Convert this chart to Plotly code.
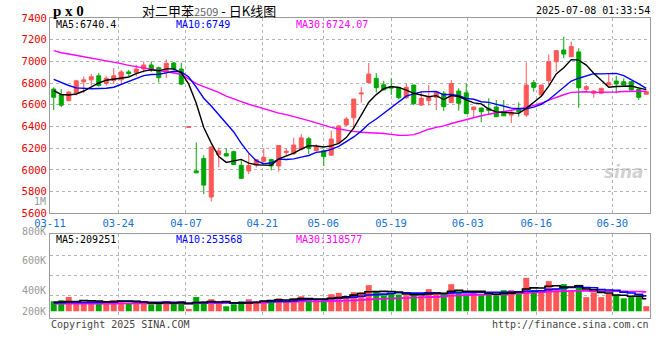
import plotly.graph_objects as go
import pandas as pd

# ---------------- data ----------------
opens = [6745, 6694, 6639, 6709, 6812, 6830, 6867, 6797, 6824, 6830,
         6903, 6897, 6930, 6967, 6942, 6900, 6985, 6930, 6392, 5991,
         6105, 5750, 6140, 6150, 6168, 6042, 5990, 6045, 6080, 6095,
         6036, 6160, 6149, 6190, 6287, 6178, 6177, 6136, 6250, 6414,
         6480, 6700, 6805, 6844, 6785, 6764, 6761, 6665, 6782, 6598,
         6638, 6669, 6706, 6620, 6727, 6710, 6555, 6570, 6568, 6580,
         6536, 6505, 6568, 6506, 6804, 6690, 6822, 6997, 7105, 7043,
         7087, 6743, 6706, 6706, 6782, 6819, 6813, 6813, 6746, 6697]
highs = [6761, 6745, 6724, 6830, 6861, 6885, 6894, 6867, 6939, 6921,
         6921, 6967, 7000, 7000, 6952, 7018, 6994, 6988, 6398, 6252,
         6136, 6221, 6205, 6200, 6178, 6090, 6148, 6100, 6200, 6103,
         6229, 6199, 6295, 6330, 6305, 6236, 6195, 6360, 6414, 6488,
         6653, 6765, 6985, 6893, 6820, 6844, 6765, 6798, 6782, 6727,
         6782, 6715, 6727, 6829, 6752, 6792, 6580, 6573, 6660, 6644,
         6644, 6552, 6623, 6990, 6829, 6782, 7065, 7099, 7228, 7182,
         7121, 6782, 6736, 6752, 6890, 6868, 6844, 6820, 6746, 6730]
lows = [6552, 6579, 6630, 6688, 6709, 6776, 6767, 6776, 6791, 6797,
        6861, 6861, 6897, 6903, 6806, 6848, 6920, 6780, 6392, 5970,
        5776, 5710, 6025, 6125, 6045, 5922, 5960, 6020, 6070, 5995,
        5985, 6130, 6137, 6180, 6148, 6170, 6036, 6130, 6245, 6405,
        6370, 6620, 6800, 6713, 6730, 6690, 6650, 6655, 6598, 6590,
        6592, 6552, 6543, 6620, 6546, 6515, 6488, 6440, 6506, 6490,
        6497, 6432, 6490, 6490, 6721, 6690, 6782, 6905, 7029, 7043,
        6573, 6721, 6665, 6706, 6782, 6706, 6782, 6736, 6644, 6697]
closes = [6670, 6597, 6718, 6821, 6830, 6858, 6779, 6845, 6867, 6903,
          6888, 6930, 6967, 6927, 6850, 6982, 6930, 6791, 6398, 5973,
          5860, 6210, 6175, 6128, 6050, 5922, 6040, 6095, 6115, 6036,
          6225, 6172, 6229, 6295, 6199, 6208, 6122, 6285, 6405, 6469,
          6653, 6708, 6883, 6758, 6739, 6755, 6665, 6761, 6610, 6660,
          6675, 6715, 6583, 6795, 6614, 6518, 6580, 6536, 6550, 6490,
          6498, 6532, 6536, 6782, 6761, 6782, 6997, 7099, 7068, 7136,
          6758, 6767, 6727, 6752, 6804, 6792, 6782, 6736, 6669, 6721]
volumes = [167000, 184000, 239000, 155000, 145000, 145000, 167000, 167000, 184000, 167000,
           139000, 145000, 134000, 117000, 145000, 167000, 122000, 167000, 39000, 239000,
           167000, 200000, 122000, 83000, 117000, 167000, 200000, 167000, 184000, 184000,
           217000, 184000, 217000, 250000, 184000, 184000, 184000, 284000, 306000, 250000,
           317000, 317000, 434000, 317000, 267000, 306000, 278000, 267000, 267000, 256000,
           367000, 317000, 278000, 451000, 334000, 284000, 317000, 267000, 278000, 267000,
           351000, 351000, 334000, 556000, 351000, 340000, 501000, 378000, 451000, 351000,
           440000, 235000, 315000, 235000, 296000, 270000, 215000, 240000, 236000, 85000]

# moving-average values before enough in-window history exists
ma5_head = [6730, 6695, 6690, 6700]
ma10_head = [6835, 6806, 6778, 6756, 6750, 6748, 6750, 6752, 6762]
ma30_head = [7100, 7080, 7068, 7056, 7045, 7033, 7020, 7004, 6993, 6980,
             6963, 6952, 6942, 6932, 6920, 6908, 6893, 6880, 6838, 6795,
             6768, 6742, 6715, 6680, 6652, 6630, 6605, 6585, 6565]
vma5_head = [150000, 155000, 160000, 162000]
vma10_head = [140000, 142000, 145000, 146000, 146000, 147000, 148000, 150000, 152000]
vma30_head = [125000, 125000, 126000, 126000, 127000, 127000, 128000, 128000, 128000, 129000,
              129000, 130000, 130000, 130000, 131000, 131000, 132000, 132000, 132000, 133000,
              134000, 135000, 136000, 137000, 138000, 139000, 140000, 141000, 142000]

tick_labels = ["03-11", "03-24", "04-07", "04-21", "05-06", "05-19", "06-03", "06-16", "06-30"]
tick_pos = [-0.5, 8.61, 17.63, 27.81, 35.94, 44.97, 55.19, 64.33, 74.47]
price_ticks = [5600, 5800, 6000, 6200, 6400, 6600, 6800, 7000, 7200, 7400]
vol_labels = ["1M", "800K", "600K", "400K", "200K"]

ma_texts = ["MA5:6740.4", "MA10:6749", "MA30:6724.07"]
vma_texts = ["MA5:209251", "MA10:253568", "MA30:318577"]

# ---------------- derived ----------------
n = len(closes)
idx = list(range(n))


def moving(values, w, head):
    m = pd.Series(values, dtype=float).rolling(w).mean().tolist()
    m[:len(head)] = head
    return m


ma5 = moving(closes, 5, ma5_head)
ma10 = moving(closes, 10, ma10_head)
ma30 = moving(closes, 30, ma30_head)
vma5 = moving(volumes, 5, vma5_head)
vma10 = moving(volumes, 10, vma10_head)
vma30 = moving(volumes, 30, vma30_head)

RED = "#ff5656"
GREEN = "#00a600"
MA_COLORS = ["#000000", "#0000ff", "#ff00ff"]
MONO = "DejaVu Sans Mono"

fig = go.Figure()

fig.add_trace(go.Candlestick(
    x=idx, open=opens, high=highs, low=lows, close=closes,
    increasing=dict(line=dict(color=RED, width=1), fillcolor=RED),
    decreasing=dict(line=dict(color=GREEN, width=1), fillcolor=GREEN),
    whiskerwidth=0, hoverinfo="skip", xaxis="x", yaxis="y"))

for series, col in zip([ma30, ma10, ma5], MA_COLORS[::-1]):
    fig.add_trace(go.Scatter(x=idx, y=series, mode="lines",
                             line=dict(color=col, width=1.4),
                             hoverinfo="skip", xaxis="x", yaxis="y"))

bar_colors = [RED if c >= o else GREEN for o, c in zip(opens, closes)]
fig.add_trace(go.Bar(x=idx, y=volumes, marker=dict(color=bar_colors, line=dict(width=0)),
                     width=0.8, hoverinfo="skip", xaxis="x2", yaxis="y2"))
for series, col in zip([vma30, vma10, vma5], MA_COLORS[::-1]):
    fig.add_trace(go.Scatter(x=idx, y=series, mode="lines",
                             line=dict(color=col, width=1.6, shape="hvh"),
                             hoverinfo="skip", xaxis="x2", yaxis="y2"))

# ---------------- layout ----------------
L, R, T, B = 50, 650, 18, 318
W = R - L
H = B - T


def px(xp):
    return (xp - L) / W


def py(yp):
    return (B - yp) / H


main_bottom, vol_top = 213.3, 234.3
grid = dict(showgrid=True, gridcolor="#b4b4b4", griddash="dot", gridwidth=1,
            zeroline=False, showline=True, linecolor="#9a9a9a", linewidth=1,
            mirror=True, ticks="", automargin=False)

fig.update_layout(
    template="none",
    width=660, height=360,
    margin=dict(l=L, r=660 - R, t=T, b=360 - B, autoexpand=False),
    paper_bgcolor="white", plot_bgcolor="white",
    showlegend=False, boxgap=0.24,
    font=dict(family=MONO, size=10, color="#000"),
    xaxis=dict(range=[-0.5, n - 0.5], tickvals=tick_pos, ticktext=tick_labels,
               tickfont=dict(family=MONO, size=10.5, color="#1870d0"),
               rangeslider=dict(visible=False), anchor="y", **grid),
    yaxis=dict(domain=[py(main_bottom), 1], range=[5600, 7400], tickvals=price_ticks,
               tickfont=dict(family=MONO, size=10.5, color="#e60000"), anchor="x", **grid),
    xaxis2=dict(range=[-0.5, n - 0.5], tickvals=tick_pos, showticklabels=False,
                anchor="y2", **grid),
    yaxis2=dict(domain=[0, py(vol_top)], range=[-112000, 1281000],
                tickvals=[267000, 601000, 935000], showticklabels=False,
                anchor="x2", **grid),
)

ann = []


def text(xp, yp, s, color="#000", size=10, anchor="left", family=MONO):
    ann.append(dict(x=px(xp), y=py(yp), xref="paper", yref="paper", text=s,
                    showarrow=False, xanchor=anchor, yanchor="middle",
                    font=dict(family=family, size=size, color=color)))


text(51, 11, "<b>p x 0</b>", size=15, family="Liberation Serif")
text(140, 11, "对二甲苯<span style='color:#666;font-size:11px'>2509</span> - 日K线图",
     size=13, family="Noto Sans CJK SC")
text(652, 11, "2025-07-08 01:33:54", anchor="right")

for s, xp, col in zip(ma_texts, [54, 174, 294], MA_COLORS):
    text(xp, 24, s, color=col)
for s, xp, col in zip(vma_texts, [54, 174, 294], MA_COLORS):
    text(xp, 239.5, s, color=col)

for s, yp in zip(vol_labels, [201, 231, 260, 290.5, 311]):
    text(48, yp, s, color="#9a9a9a", size=10, anchor="right")

text(49, 324, "Copyright 2025 SINA.COM", color="#444")
text(651, 324, "http://finance.sina.com.cn", color="#444", anchor="right")
text(646, 172, "<b><i>sina</i></b>", color="rgba(170,170,170,0.55)", size=17,
     anchor="right", family="DejaVu Sans")

fig.update_layout(annotations=ann)

fig.write_html("out.html", config={"displayModeBar": False},
               post_script="document.body.style.margin='0';document.body.style.padding='0';")
